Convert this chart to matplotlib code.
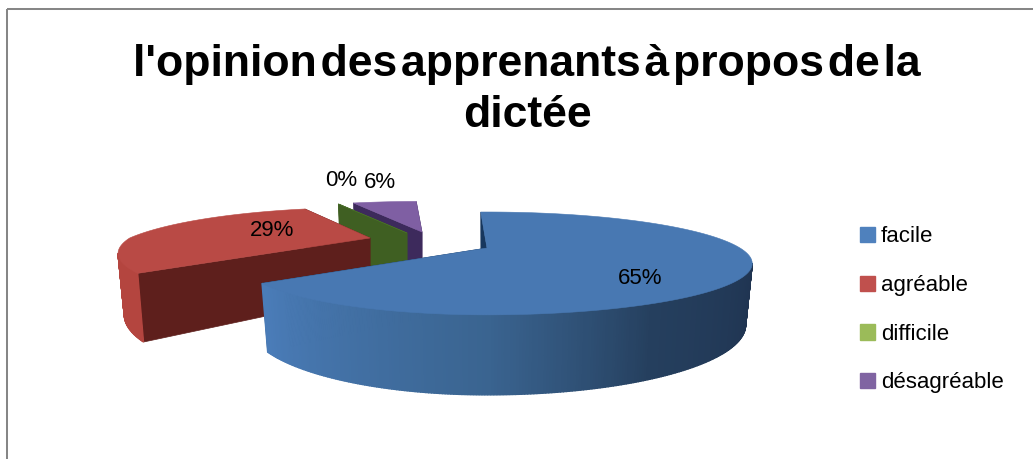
import numpy as np
import matplotlib
matplotlib.use("Agg")
import matplotlib.pyplot as plt
from matplotlib.patches import Patch, Rectangle
from matplotlib.colors import LinearSegmentedColormap

# données
categories = ["facile", "agréable", "difficile", "désagréable"]
values = [65, 29, 0, 6]
title = "l'opinion\u200ades\u200aapprenants\u200aà\u200apropos\u200ade\u200ala\ndictée"

# couleurs
legend_colors = ["#4f81bd", "#c0504d", "#9bbb59", "#8064a2"]
top_colors = ["#4878b2", "#b94a45", "#4f7a2c", "#7f5fa3"]
side_colors = ["#17375e", "#5e1f1c", "#3f5f22", "#3d2a5c"]
blue_rim = LinearSegmentedColormap.from_list(
    "rim", [(0, "#1f3350"), (0.3, "#253f5e"), (0.5, "#3a6490"), (0.85, "#4a7cb8"), (1, "#4a7cb8")])
rim_flat = ["", "#b4453f", "#3f5f22", "#3d2a5c"]

# géométrie de la vue (pixels de l'image)
apex = [(487, 248), (370, 238), (407, 233), (422, 232)]
left_scale = [0.92, 0.95, 1.0, 1.0]
far_scale = [0.0, 0.15, 0.15, 0.15]
label_pos = [(640, 279), (272, 230), (341, 180), (380, 182)]
RX, RY, K, DEPTH, SHRINK = 253, 46.8, 0.30, 56, 0.975
START = -2


def project(theta, i):
    t = np.radians(theta)
    u, v = np.sin(t), np.cos(t)
    s = 1 / (1 + K * v)
    f = np.where(u < 0, left_scale[i], 1.0) * (1 - far_scale[i] * np.clip(v, 0, 1))
    x = apex[i][0] + RX * u * s * f
    y = apex[i][1] - RY * v * s * (1 - far_scale[i] * np.clip(v, 0, 1))
    return x, y, s


def lower(x, y, s, i):
    return apex[i][0] + SHRINK * (x - apex[i][0]), y + DEPTH * s


def radial_wall(ax, theta, i):
    x, y, s = project(theta, i)
    x2, y2 = lower(x, y, s, i)
    ax.fill([apex[i][0], x, x2, apex[i][0]], [apex[i][1], y, y2, apex[i][1] + DEPTH],
            color=side_colors[i], lw=0.5)


def rim_wall(ax, t0, t1, i):
    th = np.linspace(t0, t1, max(int(abs(t1 - t0)) * 2, 2))
    x, y, s = project(th, i)
    xb, yb = lower(x, y, s, i)
    lim = np.degrees(np.arccos(-K))
    for j in range(len(th) - 1):
        mid = (th[j] + th[j + 1]) / 2
        # seule la face tournée vers nous est visible
        if np.cos(np.radians(mid)) > -K:
            continue
        f = (mid - lim) / (360 - 2 * lim)
        c = blue_rim(np.clip(f, 0, 1)) if i == 0 else rim_flat[i]
        ax.fill([x[j], x[j + 1], xb[j + 1], xb[j]], [y[j], y[j + 1], yb[j + 1], yb[j]],
                color=c, lw=1.0)


fig = plt.figure(figsize=(10.33, 4.59), dpi=100)
plt.rcParams["font.family"] = ["Liberation Sans", "DejaVu Sans"]
ax = fig.add_axes([0, 0, 1, 1])
ax.set_xlim(0, 1033)
ax.set_ylim(459, 0)
ax.axis("off")

# cadre du graphique (coupé à droite et en bas dans l'image)
ax.add_patch(Rectangle((7, 9), 1040, 470, fill=False, ec="#868686", lw=1.45))

# angles des parts à partir des valeurs
cum = START + np.concatenate([[0], np.cumsum(values)]) * 3.6
order = [3, 2, 1, 0]  # du fond vers l'avant
for i in order:
    t0, t1 = cum[i], cum[i + 1]
    radial_wall(ax, t0, i)
    radial_wall(ax, t1, i)
    rim_wall(ax, t0, t1, i)
    th = np.linspace(t0, t1, 200)
    x, y, _ = project(th, i)
    ax.fill(np.r_[apex[i][0], x], np.r_[apex[i][1], y], color=top_colors[i], lw=0.4)

for v, (px, py) in zip(values, label_pos):
    ax.text(px, py, f"{v}%", ha="center", va="center", fontsize=16, color="black")

ax.text(527, 90, title, ha="center", va="center", fontsize=32, fontweight="bold",
        linespacing=1.33, color="black")

handles = [Patch(color=c, label=n) for c, n in zip(legend_colors, categories)]
ax.legend(handles=handles, loc="center left", bbox_to_anchor=(0.8325, 0.325), frameon=False,
          fontsize=16, handlelength=0.68, handleheight=0.68, handletextpad=0.27,
          labelspacing=1.25, borderpad=0, borderaxespad=0)

plt.savefig("out.png", dpi=100)
